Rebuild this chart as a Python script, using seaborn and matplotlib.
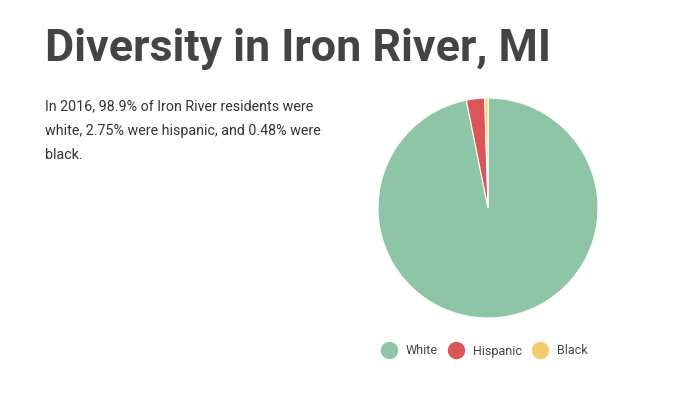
import matplotlib.pyplot as plt
import seaborn as sns
from matplotlib.lines import Line2D

groups = ['White', 'Hispanic', 'Black']
shares = [98.9, 2.75, 0.48]
colors = ['#8fc5a7', '#dc5558', '#f2cd6b']

sns.set_theme(style='white')
plt.rcParams['font.family'] = ['Roboto', 'DejaVu Sans']

fig = plt.figure(figsize=(6.75, 3.94), dpi=100)
fig.patch.set_facecolor('white')

fig.text(45 / 675, 1 - 61 / 394, 'Diversity in Iron River, MI', fontsize=32.3,
         fontweight='bold', color='#444444', ha='left', va='baseline')
fig.text(45 / 675, 1 - 99 / 394,
         'In 2016, 98.9% of Iron River residents were\n'
         'white, 2.75% were hispanic, and 0.48% were\nblack.',
         fontsize=10.25, color='#333333', ha='left', va='top', linespacing=1.97)

ax = fig.add_axes([378 / 675, 76 / 394, 220 / 675, 220 / 394])
palette = sns.color_palette(colors)
ax.pie(shares, colors=palette, startangle=90, counterclock=False, radius=1,
       wedgeprops=dict(edgecolor='white', linewidth=0.8))
ax.set_xlim(-1, 1)
ax.set_ylim(-1, 1)
ax.set_aspect('equal')
ax.axis('off')

handles = [Line2D([0], [0], marker='o', linestyle='', markersize=11.5,
                  markerfacecolor=c, markeredgecolor=c) for c in palette]
fig.legend(handles, groups, loc='center', bbox_to_anchor=(482 / 675, 1 - 351 / 394),
           ncol=3, frameon=False, fontsize=9, handletextpad=0.4,
           columnspacing=0.4, labelcolor='#444444')

fig.savefig('out.png', dpi=100)
